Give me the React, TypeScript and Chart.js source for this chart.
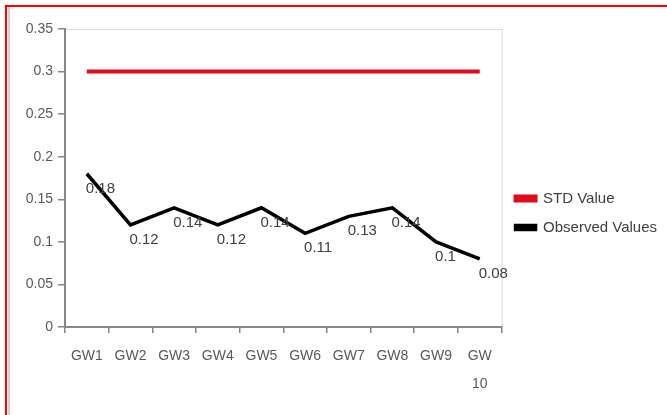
import React, { useEffect, useRef } from "react";
import { Chart, registerables } from "chart.js";

Chart.register(...registerables);

const categories: (string | string[])[] = [
  "GW1", "GW2", "GW3", "GW4", "GW5", "GW6", "GW7", "GW8", "GW9", ["GW", "10"],
];
const stdValues = [0.3, 0.3, 0.3, 0.3, 0.3, 0.3, 0.3, 0.3, 0.3, 0.3];
const observedValues = [0.18, 0.12, 0.14, 0.12, 0.14, 0.11, 0.13, 0.14, 0.1, 0.08];
const yTicks = { min: 0, max: 0.35, step: 0.05 };

const FONT = "'Liberation Sans', 'DejaVu Sans', sans-serif";

// Light outline around the plotting area
const plotFrame = {
  id: "plotFrame",
  beforeDraw(chart: Chart) {
    const { ctx, chartArea } = chart;
    ctx.save();
    ctx.strokeStyle = "#dcdcdc";
    ctx.lineWidth = 1;
    ctx.strokeRect(chartArea.left + 0.5, chartArea.top + 0.5, chartArea.width, chartArea.height);
    ctx.restore();
  },
};

// Value labels beside each observed point
const valueLabels = {
  id: "valueLabels",
  afterDatasetsDraw(chart: Chart) {
    const { ctx } = chart;
    const meta = chart.getDatasetMeta(1);
    const data = chart.data.datasets[1].data as number[];
    ctx.save();
    ctx.font = `15px ${FONT}`;
    ctx.fillStyle = "#404040";
    ctx.textAlign = "left";
    ctx.textBaseline = "middle";
    meta.data.forEach((pt: any, i: number) => {
      ctx.fillText(String(data[i]), pt.x - 1, pt.y + 15);
    });
    ctx.restore();
  },
};

export default function App() {
  const canvasRef = useRef<HTMLCanvasElement | null>(null);

  useEffect(() => {
    if (!canvasRef.current) return;
    const chart = new Chart(canvasRef.current, {
      type: "line",
      data: {
        labels: categories,
        datasets: [
          {
            label: "STD Value",
            data: stdValues,
            borderColor: "#e00b1c",
            backgroundColor: "#e00b1c",
            borderWidth: 4,
            pointRadius: 0,
            tension: 0,
          },
          {
            label: "Observed Values",
            data: observedValues,
            borderColor: "#000000",
            backgroundColor: "#000000",
            borderWidth: 3.5,
            pointRadius: 0,
            tension: 0,
          },
        ],
      },
      options: {
        responsive: false,
        animation: false,
        layout: { padding: { top: 29, bottom: 18, left: 0, right: 0 } },
        plugins: {
          tooltip: { enabled: false },
          legend: {
            position: "right",
            labels: {
              boxWidth: 20,
              boxHeight: 4,
              padding: 14,
              color: "#404040",
              font: { family: FONT, size: 15 },
            },
          },
        },
        scales: {
          x: {
            offset: true,
            afterFit: (s: any) => {
              s.height = 70;
            },
            grid: {
              offset: true,
              drawOnChartArea: false,
              drawTicks: true,
              tickLength: 6,
              color: "#868686",
              lineWidth: 1.5,
            },
            border: { color: "#868686", width: 2 },
            ticks: {
              color: "#595959",
              padding: 9,
              maxRotation: 0,
              autoSkip: false,
              font: { family: FONT, size: 14, lineHeight: 2 },
            },
          },
          y: {
            min: yTicks.min,
            max: yTicks.max,
            afterFit: (s: any) => {
              s.width = 65;
            },
            grid: {
              drawOnChartArea: false,
              drawTicks: true,
              tickLength: 7,
              color: "#868686",
              lineWidth: 1.5,
            },
            border: { color: "#868686", width: 2 },
            ticks: {
              stepSize: yTicks.step,
              color: "#595959",
              padding: 5,
              font: { family: FONT, size: 14 },
              callback: (v: any) => String(Number(Number(v).toFixed(2))),
            },
          },
        },
      },
      plugins: [plotFrame, valueLabels],
    });
    return () => chart.destroy();
  }, []);

  return (
    <div
      style={{
        position: "absolute",
        left: 0,
        top: 0,
        width: 667,
        height: 415,
        overflow: "hidden",
        background: "#ffffff",
      }}
    >
      <div
        style={{
          position: "absolute",
          left: 5,
          top: 5,
          width: 700,
          height: 500,
          borderLeft: "2px solid #ff0000",
          borderTop: "2px solid #ff0000",
        }}
      />
      <div
        style={{
          position: "absolute",
          left: 8,
          top: 7,
          width: 2,
          height: 420,
          background: "#dccfcf",
        }}
      />
      <canvas
        ref={canvasRef}
        width={667}
        height={415}
        style={{ position: "absolute", left: 0, top: 0 }}
      />
    </div>
  );
}
